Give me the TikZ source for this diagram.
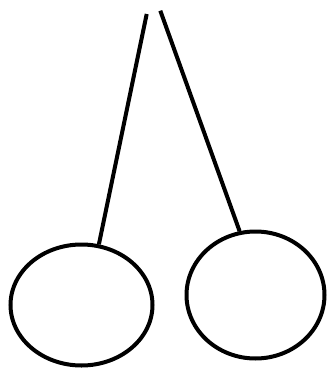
\documentclass[tikz,border=0pt]{standalone}
\usetikzlibrary{shapes.geometric}

\begin{document}
\begin{tikzpicture}[x=1pt,y=-1pt,line width=4pt,
    bob/.style={draw,ellipse,inner sep=0pt}]
  \useasboundingbox (0,0) rectangle (330,369);
  % hanging points
  \coordinate (topl) at (146.7,14);
  \coordinate (topr) at (160.3,10.7);
  % weights
  \node[bob,minimum width=142pt,minimum height=121pt] (bobl) at (81.5,305) {};
  \node[bob,minimum width=138pt,minimum height=127pt] (bobr) at (255.5,295) {};
  % strings
  \draw (topl) -- (bobl.74.6);
  \draw (topr) -- (bobr.104.9);
\end{tikzpicture}
\end{document}
